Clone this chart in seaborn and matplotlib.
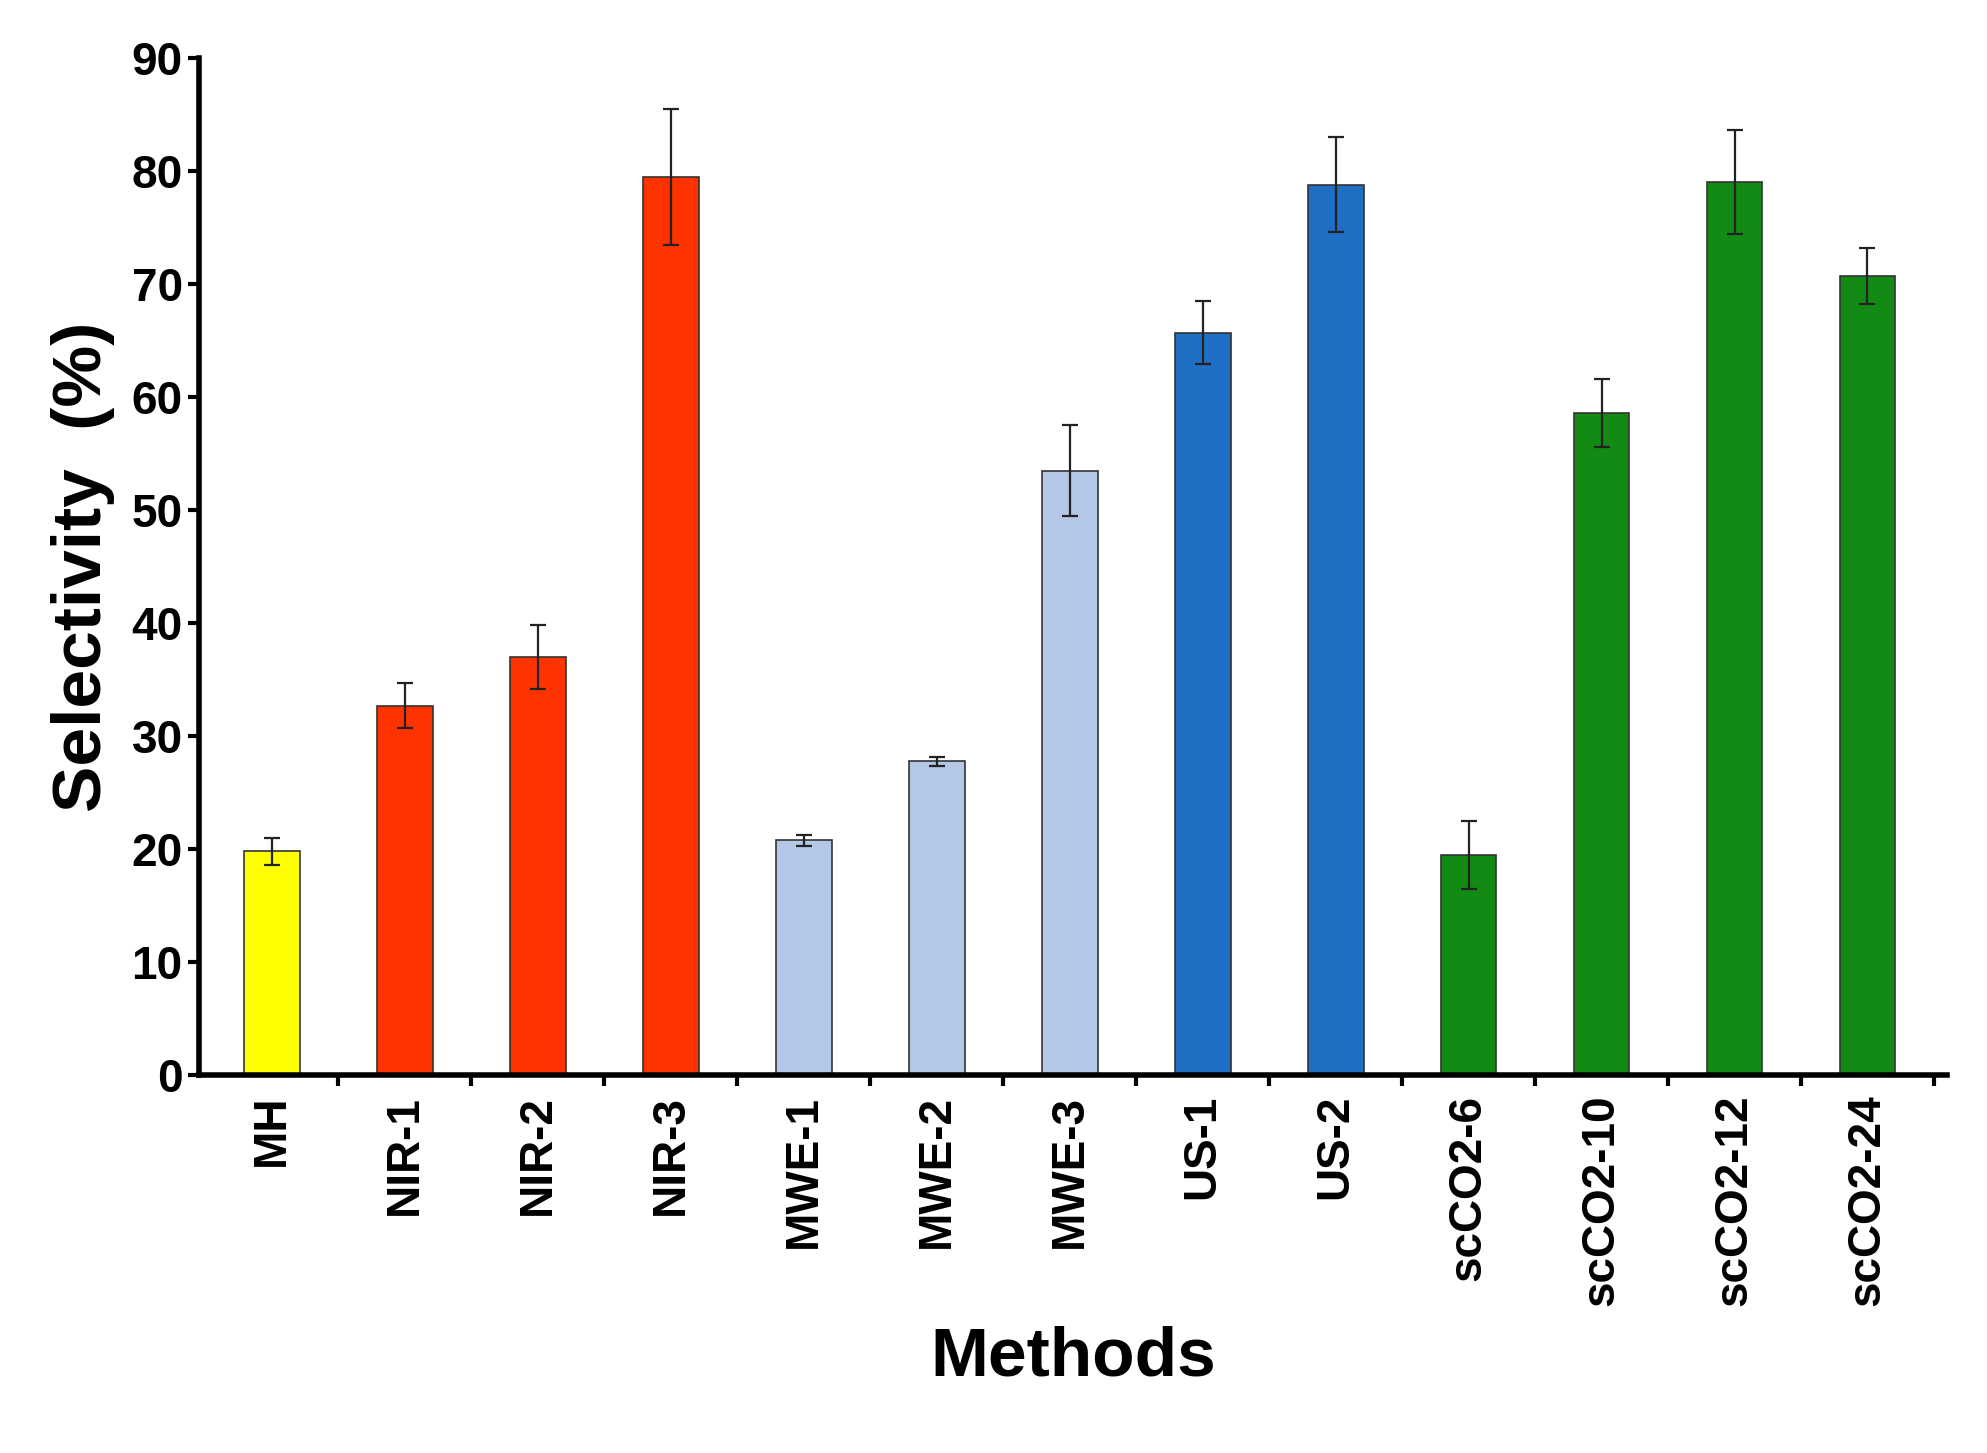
import matplotlib
matplotlib.use("Agg")
import matplotlib.pyplot as plt
import seaborn as sns
import pandas as pd
import numpy as np

methods = ["MH","NIR-1","NIR-2","NIR-3","MWE-1","MWE-2","MWE-3","US-1","US-2","scCO2-6","scCO2-10","scCO2-12","scCO2-24"]
values = [19.8,32.7,37.0,79.5,20.8,27.8,53.5,65.7,78.8,19.5,58.6,79.0,70.7]
errors = [1.2,2.0,2.8,6.0,0.5,0.4,4.0,2.8,4.2,3.0,3.0,4.6,2.5]
colors = ["#FFFF00","#FF3300","#FF3300","#FF3300","#B4C7E7","#B4C7E7","#B4C7E7",
          "#1F6FC5","#1F6FC5","#138A13","#138A13","#138A13","#138A13"]

sns.set_theme(style="ticks")
plt.rcParams['font.family'] = ['Liberation Sans', 'DejaVu Sans']
plt.rcParams['text.color'] = 'black'
plt.rcParams['axes.labelcolor'] = 'black'
plt.rcParams['xtick.color'] = 'black'
plt.rcParams['ytick.color'] = 'black'
df = pd.DataFrame({"Methods": methods, "Selectivity": values})

fig = plt.figure(figsize=(19.87, 14.53), dpi=100)
ax = fig.add_axes([0.1, 0.26, 0.88, 0.70])
sns.barplot(data=df, x="Methods", y="Selectivity", hue="Methods", palette=colors,
            saturation=1, legend=False, width=0.42, edgecolor="#333333",
            linewidth=1.2, ax=ax)
ax.errorbar(np.arange(len(methods)), values, yerr=errors, fmt="none",
            ecolor="#222222", elinewidth=1.6, capsize=6, capthick=1.6)
ax.set_ylim(0, 90)
ax.set_xlim(-0.55, 12.6)
ax.set_yticks(range(0, 91, 10))
ax.set_xticks(np.arange(len(methods)))
ax.set_xticklabels(methods, rotation=90, fontsize=33, fontweight="bold")
ax.tick_params(axis="y", labelsize=33, width=3, length=8)
for t in ax.get_yticklabels():
    t.set_fontweight("bold")
ax.tick_params(axis="x", length=0, pad=14)
ax.set_xticks(np.arange(len(methods)) + 0.5, minor=True)
ax.tick_params(axis="x", which="minor", length=8, width=3, direction="out")
ax.set_xlabel("Methods", fontsize=50, fontweight="bold", labelpad=14)
ax.set_ylabel("Selectivity  (%)", fontsize=50, fontweight="bold", labelpad=12)
for s in ["top", "right"]:
    ax.spines[s].set_visible(False)
for s in ["left", "bottom"]:
    ax.spines[s].set_linewidth(4)
    ax.spines[s].set_color("black")
fig.savefig("out.png", dpi=100)
